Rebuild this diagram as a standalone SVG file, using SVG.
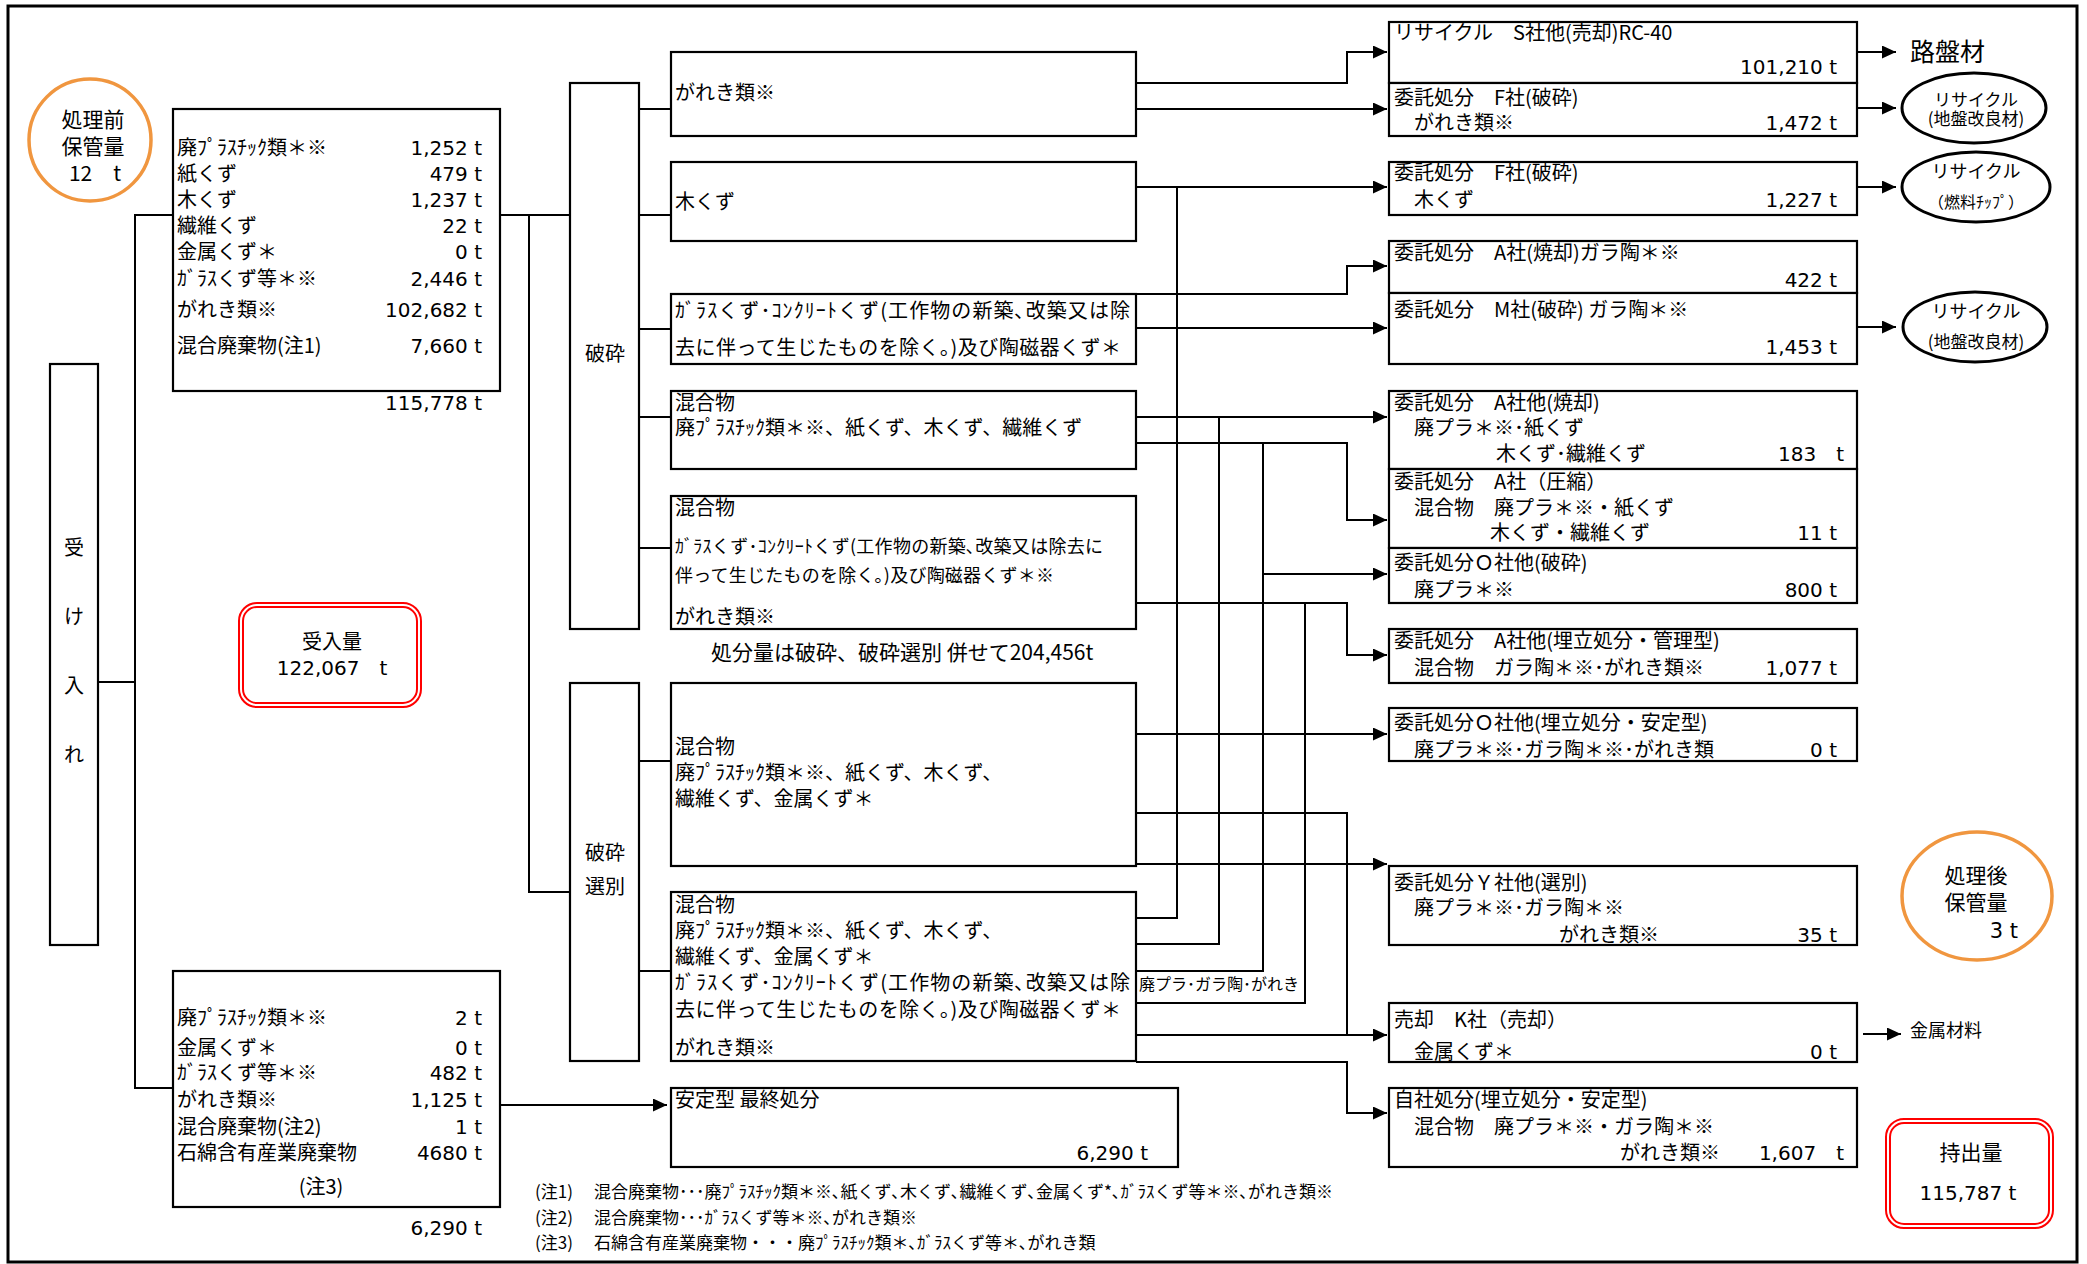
<svg xmlns="http://www.w3.org/2000/svg" width="2087" height="1264" viewBox="0 0 2087 1264">
<defs>
<style>
.box{fill:#fff;stroke:#000;stroke-width:2.2}
.ln{fill:none;stroke:#000;stroke-width:2}
.el{fill:#fff;stroke:#000;stroke-width:3}
.org{fill:#fff;stroke:#F0963F;stroke-width:3.5}
.red{fill:none;stroke:#FF0000;stroke-width:2}
text{font-family:"Noto Sans CJK JP",sans-serif;font-size:20px;fill:#000}
.n{font-family:"DejaVu Sans","Noto Sans CJK JP",sans-serif;text-anchor:end}
.nc{font-family:"DejaVu Sans","Noto Sans CJK JP",sans-serif;text-anchor:middle}
.c{text-anchor:middle}
.s18{font-size:18px}
.s17{font-size:17px}
.s16{font-size:16px}
</style>
<marker id="ah" markerWidth="14" markerHeight="13" refX="14" refY="6.5" orient="auto" markerUnits="userSpaceOnUse">
<path d="M0,0 L14,6.5 L0,13 z" fill="#000"/>
</marker>
</defs>
<rect x="0" y="0" width="2087" height="1264" fill="#fff"/>
<rect x="8" y="6" width="2069" height="1256" fill="none" stroke="#000" stroke-width="3"/>

<g id="connectors">
<polyline class="ln" points="98,682 135,682"/>
<polyline class="ln" points="173,215 135,215 135,1088 173,1088"/>
<polyline class="ln" points="500,215 570,215"/>
<polyline class="ln" points="529,215 529,892 570,892"/>
<polyline class="ln" points="639,109 671,109"/>
<polyline class="ln" points="639,215 671,215"/>
<polyline class="ln" points="639,329 671,329"/>
<polyline class="ln" points="639,417 671,417"/>
<polyline class="ln" points="639,548 671,548"/>
<polyline class="ln" points="639,761 671,761"/>
<polyline class="ln" points="639,971 671,971"/>
<polyline class="ln" points="500,1105 667,1105" marker-end="url(#ah)"/>
<polyline class="ln" points="1136,83 1347,83 1347,52 1387,52" marker-end="url(#ah)"/>
<polyline class="ln" points="1136,109 1387,109" marker-end="url(#ah)"/>
<polyline class="ln" points="1136,187 1387,187" marker-end="url(#ah)"/>
<polyline class="ln" points="1136,294 1347,294 1347,266 1387,266" marker-end="url(#ah)"/>
<polyline class="ln" points="1136,328 1387,328" marker-end="url(#ah)"/>
<polyline class="ln" points="1136,417 1387,417" marker-end="url(#ah)"/>
<polyline class="ln" points="1136,443 1347,443 1347,520 1387,520" marker-end="url(#ah)"/>
<polyline class="ln" points="1263,574 1387,574" marker-end="url(#ah)"/>
<polyline class="ln" points="1136,603 1347,603 1347,655 1387,655" marker-end="url(#ah)"/>
<polyline class="ln" points="1136,734 1387,734" marker-end="url(#ah)"/>
<polyline class="ln" points="1136,864 1387,864" marker-end="url(#ah)"/>
<polyline class="ln" points="1136,813 1347,813 1347,1035"/>
<polyline class="ln" points="1136,1035 1387,1035" marker-end="url(#ah)"/>
<polyline class="ln" points="1136,1062 1347,1062 1347,1113 1387,1113" marker-end="url(#ah)"/>
<polyline class="ln" points="1177,187 1177,918 1136,918"/>
<polyline class="ln" points="1219,417 1219,944 1136,944"/>
<polyline class="ln" points="1263,443 1263,971 1136,971"/>
<polyline class="ln" points="1305,603 1305,1003 1136,1003"/>
<polyline class="ln" points="1857,52 1896,52" marker-end="url(#ah)"/>
<polyline class="ln" points="1857,108 1896,108" marker-end="url(#ah)"/>
<polyline class="ln" points="1857,187 1896,187" marker-end="url(#ah)"/>
<polyline class="ln" points="1857,327 1896,327" marker-end="url(#ah)"/>
<polyline class="ln" points="1863,1034 1901,1034" marker-end="url(#ah)"/>
<text x="1139" y="990" class="s16">廃プラ･ガラ陶･がれき</text>
</g>

<g id="before-storage">
<ellipse class="org" cx="90" cy="140" rx="61" ry="61"/>
<text x="93" y="127" class="c" style="font-size:21px">処理前</text>
<text x="93" y="154" class="c" style="font-size:21px">保管量</text>
<text x="95" y="181" class="c" style="font-size:21px">12　t</text>
</g>

<g id="ukeire">
<rect class="box" x="50" y="364" width="48" height="581"/>
<text x="74" y="555" class="c">受</text>
<text x="74" y="624" class="c">け</text>
<text x="74" y="693" class="c">入</text>
<text x="74" y="762" class="c">れ</text>
</g>

<g id="intake-main">
<rect class="box" x="173" y="109" width="327" height="282"/>
<text x="177" y="155">廃ﾌﾟﾗｽﾁｯｸ類＊※</text><text x="482" y="155" class="n">1,252 t</text>
<text x="177" y="181">紙くず</text><text x="482" y="181" class="n">479 t</text>
<text x="177" y="207">木くず</text><text x="482" y="207" class="n">1,237 t</text>
<text x="177" y="233">繊維くず</text><text x="482" y="233" class="n">22 t</text>
<text x="177" y="259">金属くず＊</text><text x="482" y="259" class="n">0 t</text>
<text x="177" y="286">ｶﾞﾗｽくず等＊※</text><text x="482" y="286" class="n">2,446 t</text>
<text x="177" y="317">がれき類※</text><text x="482" y="317" class="n">102,682 t</text>
<text x="177" y="353">混合廃棄物(注1)</text><text x="482" y="353" class="n">7,660 t</text>
<text x="482" y="410" class="n">115,778 t</text>
</g>

<g id="intake-total">
<rect class="red" x="239" y="603" width="182" height="104" rx="18"/>
<rect class="red" x="243" y="607" width="174" height="96" rx="14"/>
<text x="332" y="649" class="c">受入量</text>
<text x="332" y="675" class="nc">122,067　t</text>
</g>

<g id="intake-direct">
<rect class="box" x="173" y="971" width="327" height="236"/>
<text x="177" y="1025">廃ﾌﾟﾗｽﾁｯｸ類＊※</text><text x="482" y="1025" class="n">2 t</text>
<text x="177" y="1055">金属くず＊</text><text x="482" y="1055" class="n">0 t</text>
<text x="177" y="1080">ｶﾞﾗｽくず等＊※</text><text x="482" y="1080" class="n">482 t</text>
<text x="177" y="1107">がれき類※</text><text x="482" y="1107" class="n">1,125 t</text>
<text x="177" y="1134">混合廃棄物(注2)</text><text x="482" y="1134" class="n">1 t</text>
<text x="177" y="1160">石綿含有産業廃棄物</text><text x="482" y="1160" class="n">4680 t</text>
<text x="321" y="1194" class="c">(注3)</text>
<text x="482" y="1235" class="n">6,290 t</text>
</g>

<g id="hasai">
<rect class="box" x="570" y="83" width="69" height="546"/>
<text x="605" y="361" class="c">破砕</text>
</g>

<g id="hasai-senbetsu">
<rect class="box" x="570" y="683" width="69" height="378"/>
<text x="605" y="860" class="c">破砕</text>
<text x="605" y="894" class="c">選別</text>
</g>

<g id="item-gareki">
<rect class="box" x="671" y="52" width="465" height="84"/>
<text x="675" y="100">がれき類※</text>
</g>
<g id="item-kikuzu">
<rect class="box" x="671" y="162" width="465" height="79"/>
<text x="675" y="209">木くず</text>
</g>
<g id="item-glass">
<rect class="box" x="671" y="294" width="465" height="70"/>
<text x="675" y="318" textLength="455">ｶﾞﾗｽくず･ｺﾝｸﾘｰﾄくず(工作物の新築､改築又は除</text>
<text x="675" y="355" textLength="446">去に伴って生じたものを除く｡)及び陶磁器くず＊</text>
</g>
<g id="item-mix1">
<rect class="box" x="671" y="391" width="465" height="78"/>
<text x="675" y="410">混合物</text>
<text x="675" y="435">廃ﾌﾟﾗｽﾁｯｸ類＊※、紙くず、木くず、繊維くず</text>
</g>
<g id="item-mix2">
<rect class="box" x="671" y="496" width="465" height="133"/>
<text x="675" y="515">混合物</text>
<text x="675" y="553" class="s18" textLength="428">ｶﾞﾗｽくず･ｺﾝｸﾘｰﾄくず(工作物の新築､改築又は除去に</text>
<text x="675" y="582" class="s18" textLength="379">伴って生じたものを除く｡)及び陶磁器くず＊※</text>
<text x="675" y="624">がれき類※</text>
</g>
<text x="711" y="660" style="font-size:21px">処分量は破砕、破砕選別 併せて204,456t</text>
<g id="item-mix3">
<rect class="box" x="671" y="683" width="465" height="183"/>
<text x="675" y="754">混合物</text>
<text x="675" y="780">廃ﾌﾟﾗｽﾁｯｸ類＊※、紙くず、木くず、</text>
<text x="675" y="806">繊維くず、金属くず＊</text>
</g>
<g id="item-mix4">
<rect class="box" x="671" y="892" width="465" height="169"/>
<text x="675" y="912">混合物</text>
<text x="675" y="938">廃ﾌﾟﾗｽﾁｯｸ類＊※、紙くず、木くず、</text>
<text x="675" y="964">繊維くず、金属くず＊</text>
<text x="675" y="990" textLength="455">ｶﾞﾗｽくず･ｺﾝｸﾘｰﾄくず(工作物の新築､改築又は除</text>
<text x="675" y="1017" textLength="446">去に伴って生じたものを除く｡)及び陶磁器くず＊</text>
<text x="675" y="1055">がれき類※</text>
</g>
<g id="final-stable">
<rect class="box" x="671" y="1088" width="507" height="79"/>
<text x="675" y="1107">安定型 最終処分</text>
<text x="1148" y="1160" class="n">6,290 t</text>
</g>

<g id="r1">
<rect class="box" x="1389" y="22" width="468" height="61"/>
<text x="1394" y="40">リサイクル　S社他(売却)RC-40</text>
<text x="1837" y="74" class="n">101,210 t</text>
</g>
<g id="r2">
<rect class="box" x="1389" y="83" width="468" height="53"/>
<text x="1394" y="105">委託処分　F社(破砕)</text>
<text x="1414" y="130">がれき類※</text>
<text x="1837" y="130" class="n">1,472 t</text>
</g>
<g id="r3">
<rect class="box" x="1389" y="162" width="468" height="53"/>
<text x="1394" y="180">委託処分　F社(破砕)</text>
<text x="1414" y="207">木くず</text>
<text x="1837" y="207" class="n">1,227 t</text>
</g>
<g id="r4">
<rect class="box" x="1389" y="241" width="468" height="52"/>
<text x="1394" y="260">委託処分　A社(焼却)ガラ陶＊※</text>
<text x="1837" y="287" class="n">422 t</text>
</g>
<g id="r5">
<rect class="box" x="1389" y="293" width="468" height="71"/>
<text x="1394" y="317">委託処分　M社(破砕) ガラ陶＊※</text>
<text x="1837" y="354" class="n">1,453 t</text>
</g>
<g id="r6">
<rect class="box" x="1389" y="391" width="468" height="78"/>
<text x="1394" y="410">委託処分　A社他(焼却)</text>
<text x="1414" y="435">廃プラ＊※･紙くず</text>
<text x="1496" y="461">木くず･繊維くず</text>
<text x="1844" y="461" class="n">183　t</text>
</g>
<g id="r7">
<rect class="box" x="1389" y="469" width="468" height="79"/>
<text x="1394" y="489">委託処分　A社（圧縮）</text>
<text x="1414" y="515">混合物　廃プラ＊※・紙くず</text>
<text x="1490" y="540">木くず・繊維くず</text>
<text x="1837" y="540" class="n">11 t</text>
</g>
<g id="r8">
<rect class="box" x="1389" y="548" width="468" height="55"/>
<text x="1394" y="570">委託処分Ｏ社他(破砕)</text>
<text x="1414" y="597">廃プラ＊※</text>
<text x="1837" y="597" class="n">800 t</text>
</g>
<g id="r9">
<rect class="box" x="1389" y="629" width="468" height="54"/>
<text x="1394" y="648">委託処分　A社他(埋立処分・管理型)</text>
<text x="1414" y="675">混合物　ガラ陶＊※･がれき類※</text>
<text x="1837" y="675" class="n">1,077 t</text>
</g>
<g id="r10">
<rect class="box" x="1389" y="708" width="468" height="53"/>
<text x="1394" y="730">委託処分Ｏ社他(埋立処分・安定型)</text>
<text x="1414" y="757">廃プラ＊※･ガラ陶＊※･がれき類</text>
<text x="1837" y="757" class="n">0 t</text>
</g>
<g id="r11">
<rect class="box" x="1389" y="866" width="468" height="79"/>
<text x="1394" y="890">委託処分Ｙ社他(選別)</text>
<text x="1414" y="915">廃プラ＊※･ガラ陶＊※</text>
<text x="1559" y="942">がれき類※</text>
<text x="1837" y="942" class="n">35 t</text>
</g>
<g id="r12">
<rect class="box" x="1389" y="1003" width="468" height="59"/>
<text x="1394" y="1027">売却　K社（売却）</text>
<text x="1414" y="1059">金属くず＊</text>
<text x="1837" y="1059" class="n">0 t</text>
</g>
<g id="r13">
<rect class="box" x="1389" y="1088" width="468" height="79"/>
<text x="1394" y="1107">自社処分(埋立処分・安定型)</text>
<text x="1414" y="1134" textLength="300">混合物　廃プラ＊※・ガラ陶＊※</text>
<text x="1620" y="1160">がれき類※</text>
<text x="1844" y="1160" class="n">1,607　t</text>
</g>

<g id="out-roban">
<text x="1910" y="61" style="font-size:25px">路盤材</text>
</g>
<g id="out-recycle1">
<ellipse class="el" cx="1974" cy="108" rx="72" ry="35"/>
<text x="1976" y="106" class="c s17">リサイクル</text>
<text x="1976" y="125" class="c s17">(地盤改良材)</text>
</g>
<g id="out-recycle2">
<ellipse class="el" cx="1976" cy="187" rx="74" ry="35"/>
<text x="1976" y="178" class="c" style="font-size:18px">リサイクル</text>
<text x="1976" y="208" class="c s16">（燃料ﾁｯﾌﾟ）</text>
</g>
<g id="out-recycle3">
<ellipse class="el" cx="1975" cy="327" rx="72" ry="35"/>
<text x="1976" y="318" class="c" style="font-size:18px">リサイクル</text>
<text x="1976" y="348" class="c s17">(地盤改良材)</text>
</g>
<g id="after-storage">
<ellipse class="org" cx="1977" cy="896" rx="75" ry="64"/>
<text x="1976" y="883" class="c" style="font-size:21px">処理後</text>
<text x="1976" y="910" class="c" style="font-size:21px">保管量</text>
<text x="2018" y="938" class="n" style="font-size:21px">3 t</text>
</g>
<g id="out-metal">
<text x="1910" y="1037" class="s18">金属材料</text>
</g>
<g id="out-total">
<rect class="red" x="1886" y="1119" width="167" height="109" rx="18"/>
<rect class="red" x="1890" y="1123" width="159" height="101" rx="14"/>
<text x="1971" y="1160" class="c" style="font-size:21px">持出量</text>
<text x="1968" y="1200" class="nc">115,787 t</text>
</g>

<g id="notes">
<text x="535" y="1198" class="s17">(注1)</text>
<text x="594" y="1198" class="s17">混合廃棄物･･･廃ﾌﾟﾗｽﾁｯｸ類＊※､紙くず､木くず､繊維くず､金属くず*､ｶﾞﾗｽくず等＊※､がれき類※</text>
<text x="535" y="1224" class="s17">(注2)</text>
<text x="594" y="1224" class="s17">混合廃棄物･･･ｶﾞﾗｽくず等＊※､がれき類※</text>
<text x="535" y="1249" class="s17">(注3)</text>
<text x="594" y="1249" class="s17">石綿含有産業廃棄物・・・廃ﾌﾟﾗｽﾁｯｸ類＊､ｶﾞﾗｽくず等＊､がれき類</text>
</g>
</svg>
